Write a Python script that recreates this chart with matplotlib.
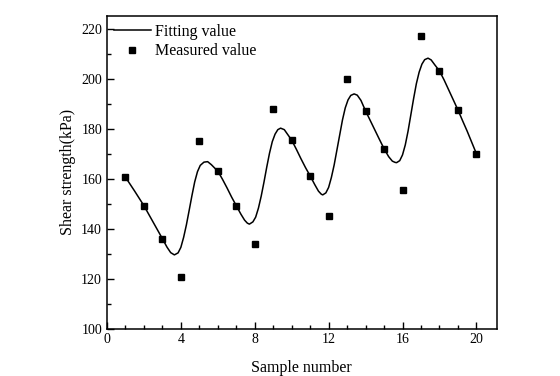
import numpy as np
import matplotlib
matplotlib.use('Agg')
import matplotlib.pyplot as plt
from matplotlib.ticker import MultipleLocator, FixedLocator

plt.rcParams['font.family'] = ['Liberation Serif', 'DejaVu Serif']

# measured shear strength of each sample (kPa)
sample = [1, 2, 3, 4, 5, 6, 7, 8, 9, 10,
          11, 12, 13, 14, 15, 16, 17, 18, 19, 20]
measured = [160.6, 149.2, 135.9, 120.8, 175.0, 163.2, 149.2, 133.9, 187.9, 175.4,
            161.1, 145.1, 200.0, 187.1, 172.0, 155.4, 217.2, 203.1, 187.5, 169.9]

# fitted curve
fit_x = [1.0, 1.5, 2.0, 2.5, 3.0, 3.25, 3.45, 3.65,
         3.85, 4.0, 4.15, 4.3, 4.45, 4.6, 4.75, 4.9, 5.05, 5.25, 5.45, 5.65, 5.85,
         6.0, 6.25, 6.5, 6.75, 7.0, 7.25, 7.45, 7.6, 7.71,
         7.9, 8.05, 8.2, 8.35, 8.5, 8.65, 8.8, 8.95, 9.1, 9.25, 9.4, 9.6, 9.8,
         10.0, 10.25, 10.5, 10.75, 11.0, 11.25, 11.45, 11.6, 11.68,
         11.85, 12.0, 12.15, 12.3, 12.45, 12.6, 12.75, 12.9, 13.05, 13.2, 13.38, 13.55, 13.75,
         14.0, 14.25, 14.5, 14.75, 15.0, 15.25, 15.45, 15.6, 15.68,
         15.85, 16.0, 16.15, 16.3, 16.45, 16.6, 16.75, 16.9, 17.05, 17.2, 17.38, 17.55, 17.75,
         18.0, 18.25, 18.5, 18.75, 19.0, 19.25, 19.5, 19.75, 20.0]
fit_y = [160.6, 155.0, 149.2, 142.6, 136.0, 132.6, 130.4, 129.5,
         130.3, 132.5, 136.5, 141.5, 147.3, 153.2, 158.7, 162.8, 165.3, 166.6, 166.8, 165.6, 164.1,
         163.0, 159.8, 156.3, 152.6, 149.2, 145.8, 143.4, 142.2, 141.8,
         142.7, 144.6, 148.2, 153.0, 158.6, 164.6, 170.2, 174.8, 177.8, 179.6, 180.2, 179.6, 177.5,
         175.4, 171.8, 168.0, 164.4, 161.1, 157.6, 155.0, 153.8, 153.5,
         154.3, 156.5, 160.5, 165.5, 171.5, 177.5, 183.5, 188.3, 191.5, 193.3, 193.9, 193.4, 191.3,
         187.1, 183.3, 179.5, 175.7, 172.0, 168.8, 167.0, 166.5, 166.4,
         167.2, 169.5, 173.5, 179.0, 185.5, 192.0, 198.0, 202.6, 205.8, 207.6, 208.2, 207.5, 205.5,
         203.1, 199.5, 195.5, 191.5, 187.5, 183.2, 179.0, 174.5, 170.0]

fig = plt.figure(figsize=(5.6, 3.76), dpi=100)
ax = fig.add_axes([0.191, 0.126, 0.696, 0.831])

ax.plot(fit_x, fit_y, color='black', linewidth=1.1, label='Fitting value')
ax.plot(sample, measured, linestyle='none', marker='s', markersize=5,
        color='black', label='Measured value')

ax.set_xlim(0, 21.1)
ax.set_ylim(100, 225)
ax.xaxis.set_major_locator(MultipleLocator(4))
ax.xaxis.set_minor_locator(FixedLocator(range(0, 21)))
ax.yaxis.set_major_locator(MultipleLocator(20))
ax.yaxis.set_minor_locator(FixedLocator(range(100, 221, 10)))
ax.tick_params(which='both', direction='in', top=False, right=False, labelsize=10)
ax.tick_params(which='major', length=5, width=1)
ax.tick_params(which='minor', length=3, width=1)
for s in ax.spines.values():
    s.set_linewidth(1.1)

ax.set_xlabel('Sample number', fontsize=11.5, labelpad=10)
ax.set_ylabel('Shear strength(kPa)', fontsize=11.5, labelpad=4)

ax.legend(loc='upper left', bbox_to_anchor=(0.01, 0.985), frameon=False,
          fontsize=11.5, handlelength=2.3, handletextpad=0.25, labelspacing=0.2,
          borderaxespad=0.0, borderpad=0.2)

fig.savefig('out.png', dpi=100)
